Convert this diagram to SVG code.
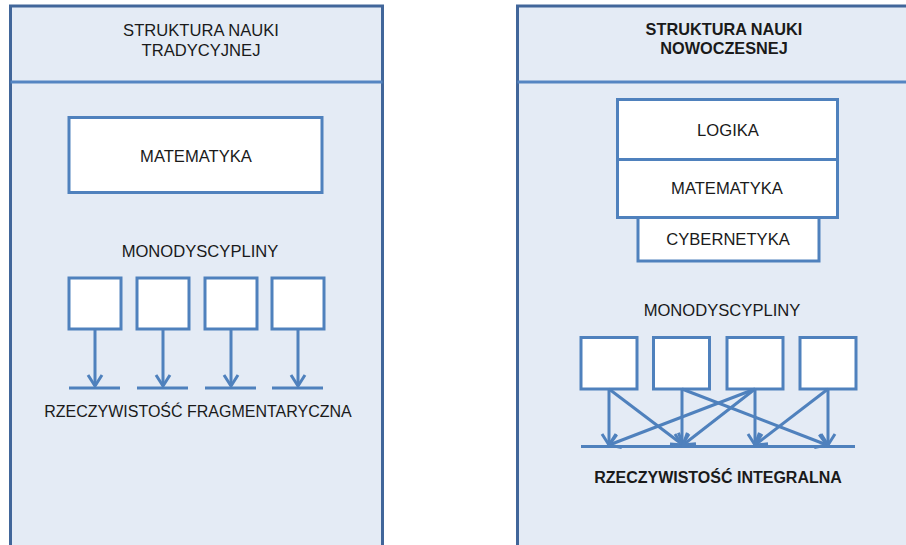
<svg xmlns="http://www.w3.org/2000/svg" width="906" height="545" viewBox="0 0 906 545">
<style>
  .panel { fill: #e4ebf5; stroke: #41669a; stroke-width: 3; }
  .sep { stroke: #5585c2; stroke-width: 3; fill: none; }
  .box { fill: #ffffff; stroke: #4f81bd; stroke-width: 3; }
  .conn { stroke: #4f81bd; stroke-width: 3; fill: none; }
  .arr { stroke: #4f81bd; stroke-width: 3; fill: none; marker-end: url(#ah); }
  .t { font-family: "Liberation Sans", Arial, sans-serif; font-size: 16.6px; fill: #1a1a1a; text-anchor: middle; }
  .b { font-weight: bold; font-size: 16.3px; }
</style>
<defs>
  <marker id="ah" markerUnits="userSpaceOnUse" markerWidth="30" markerHeight="30" viewBox="-15 -15 30 30" refX="0" refY="0" orient="auto">
    <path d="M -11,-7 L 0,0 L -11,7" fill="none" stroke="#4f81bd" stroke-width="3" stroke-linejoin="miter"/>
  </marker>
</defs>
<rect width="906" height="545" fill="#ffffff"/>

<g id="panel-left">
  <rect class="panel" x="10.5" y="6" width="372" height="560"/>
  <line class="sep" x1="10.5" y1="82" x2="382.5" y2="82"/>
  <text class="t" x="201" y="36">STRUKTURA NAUKI</text>
  <text class="t" x="201" y="56">TRADYCYJNEJ</text>
</g>

<g id="panel-right">
  <rect class="panel" x="517.5" y="6" width="420" height="560"/>
  <line class="sep" x1="517.5" y1="82" x2="906" y2="82"/>
  <text class="t b" x="724" y="35">STRUKTURA NAUKI</text>
  <text class="t b" x="724" y="54">NOWOCZESNEJ</text>
</g>

<g id="left-matematyka">
  <rect class="box" x="69" y="117.5" width="253" height="75"/>
  <text class="t" x="196" y="162">MATEMATYKA</text>
</g>
<g id="left-monodyscypliny-label">
  <text class="t" x="200" y="257">MONODYSCYPLINY</text>
</g>
<g id="left-d1"><rect class="box" x="69" y="278" width="52" height="51"/></g>
<g id="left-d2"><rect class="box" x="137" y="278" width="52" height="51"/></g>
<g id="left-d3"><rect class="box" x="205" y="278" width="52" height="51"/></g>
<g id="left-d4"><rect class="box" x="272" y="278" width="52" height="51"/></g>
<g id="left-reality">
  <line class="conn" x1="69" y1="388" x2="120" y2="388"/>
  <line class="conn" x1="137" y1="388" x2="188" y2="388"/>
  <line class="conn" x1="205" y1="388" x2="256" y2="388"/>
  <line class="conn" x1="272" y1="388" x2="323" y2="388"/>
  <text class="t" x="198" y="416.5" style="font-size:16px">RZECZYWISTOŚĆ FRAGMENTARYCZNA</text>
</g>

<g id="right-logika">
  <rect class="box" x="617.5" y="99.5" width="220" height="60"/>
  <text class="t" x="728" y="135.5">LOGIKA</text>
</g>
<g id="right-matematyka">
  <rect class="box" x="617.5" y="159.5" width="220" height="58"/>
  <text class="t" x="727" y="194">MATEMATYKA</text>
</g>
<g id="right-cybernetyka">
  <rect class="box" x="638" y="217.5" width="181" height="43.5"/>
  <text class="t" x="728" y="245">CYBERNETYKA</text>
</g>
<g id="right-monodyscypliny-label">
  <text class="t" x="722" y="316">MONODYSCYPLINY</text>
</g>
<g id="right-d1"><rect class="box" x="581" y="337.5" width="56" height="51.5"/></g>
<g id="right-d2"><rect class="box" x="653.5" y="337.5" width="56" height="51.5"/></g>
<g id="right-d3"><rect class="box" x="727" y="337.5" width="56" height="51.5"/></g>
<g id="right-d4"><rect class="box" x="800" y="337.5" width="56" height="51.5"/></g>
<g id="right-reality">
  <line class="conn" x1="581" y1="446.5" x2="855" y2="446.5"/>
  <text class="t b" x="718" y="483" style="font-size:16px">RZECZYWISTOŚĆ INTEGRALNA</text>
</g>

<g id="connectors">
  <line class="arr" x1="95" y1="329" x2="95" y2="386"/>
  <line class="arr" x1="163" y1="329" x2="163" y2="386"/>
  <line class="arr" x1="231" y1="329" x2="231" y2="386"/>
  <line class="arr" x1="298" y1="329" x2="298" y2="386"/>

  <line class="arr" x1="609" y1="389" x2="609" y2="445"/>
  <line class="arr" x1="609" y1="389" x2="683" y2="445"/>
  <line class="arr" x1="682" y1="389" x2="682" y2="445"/>
  <line class="arr" x1="682" y1="389" x2="827" y2="445"/>
  <line class="arr" x1="755" y1="389" x2="609" y2="445"/>
  <line class="arr" x1="755" y1="389" x2="683" y2="445"/>
  <line class="arr" x1="755" y1="389" x2="755" y2="445"/>
  <line class="arr" x1="828" y1="389" x2="755" y2="445"/>
  <line class="arr" x1="828" y1="389" x2="828" y2="445"/>
</g>
</svg>
